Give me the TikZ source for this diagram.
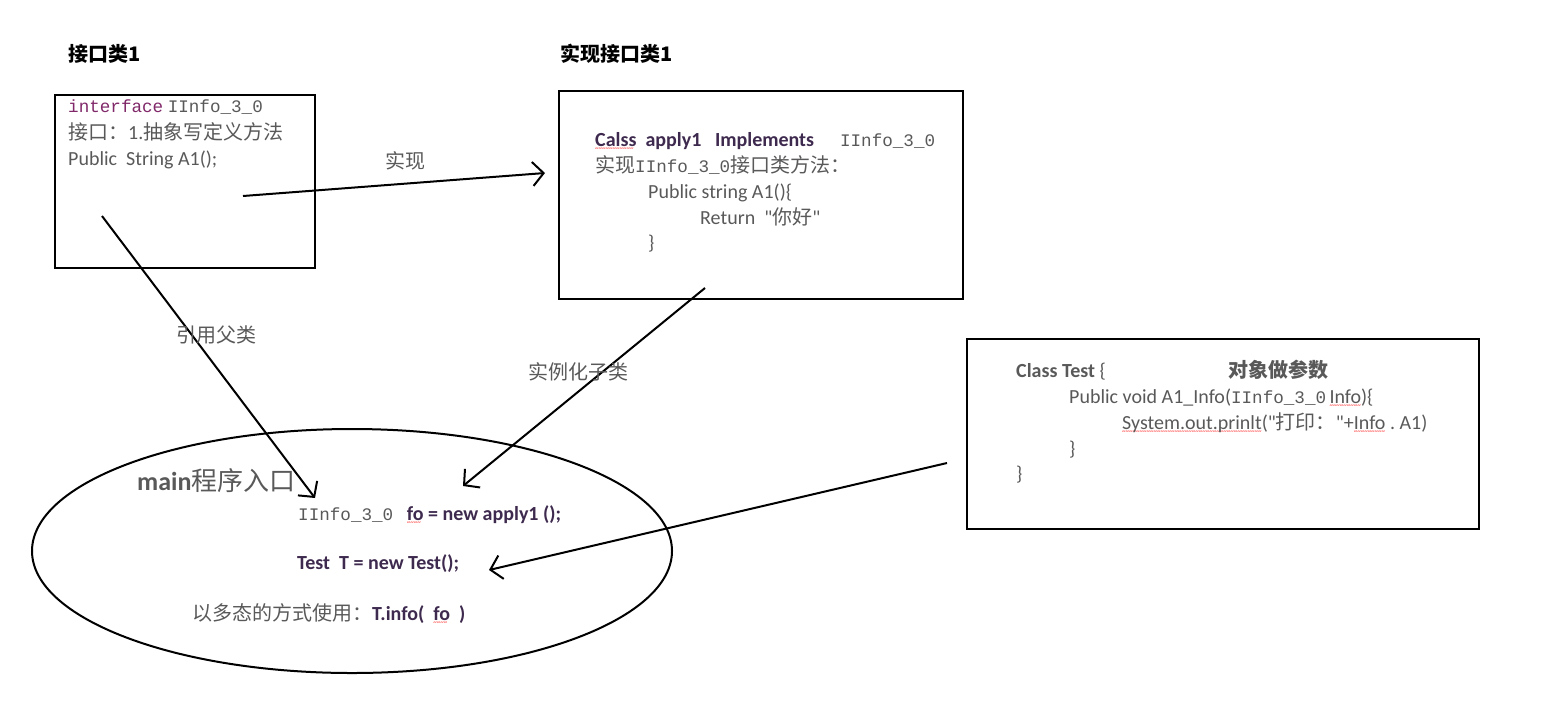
\documentclass[tikz,border=0pt]{standalone}
\usepackage{fontspec}
\setmainfont{Carlito}[Ligatures=TeXOff]
\newfontfamily\cjk{Noto Sans CJK SC}
\newfontfamily\song{Liberation Mono}[Scale=0.88]
\usetikzlibrary{arrows.meta,shapes.geometric}
\definecolor{testo}{RGB}{89,89,89}
\definecolor{viola}{RGB}{128,40,105}
\definecolor{scuro}{RGB}{62,42,78}
\newcommand{\zh}[1]{{\cjk #1}}
\newcommand{\mono}[1]{{\song #1}}
% sottolineatura ondulata rossa
\newsavebox{\parola}
\newcommand{\errore}[1]{\sbox{\parola}{#1}\rlap{\textcolor{red}{\lower4.5pt\hbox to \wd\parola{\mdseries\fontsize{7}{7}\selectfont\leaders\hbox{\char"7E}\hfill}}}\usebox{\parola}}
\tikzset{
  riga/.style={anchor=base west, inner sep=0pt, text=testo, font=\fontsize{20}{24}\selectfont},
  titolo/.style={anchor=base west, inner sep=0pt, font=\cjk\bfseries\fontsize{20}{24}\selectfont},
  etichetta/.style={inner sep=0pt, text=testo, font=\cjk\fontsize{20}{24}\selectfont},
  scatola/.style={draw, line width=2.2pt, inner sep=0pt},
  freccia/.style={line width=2pt, -{Straight Barb[length=11pt,width=24pt]}},
}
\begin{document}
\begin{tikzpicture}[x=1pt,y=-1pt]
  \useasboundingbox (0,0) rectangle (1541,716);
  % Titoli
  \node[titolo] (t1) at (68,61) {接口类1};
  \node[titolo] (t2) at (560,61) {实现接口类1};
  % Scatole
  \node[scatola, minimum width=260pt, minimum height=173pt] (interfaccia) at (185,181.5) {};
  \node[scatola, minimum width=404pt, minimum height=208pt] (classe) at (761,195) {};
  \node[scatola, minimum width=512pt, minimum height=190pt] (test) at (1223,434) {};
  \node[draw, ellipse, line width=2pt, minimum width=640pt, minimum height=244pt] (main) at (352,551) {};
  % Interfaccia
  \node[riga] (i1) at (68,112) {\mono{\color{viola}interface}\ \mono{IInfo\_3\_0}};
  \node[riga] (i2) at (68,139) {\zh{接口：}1.\zh{抽象写定义方法}};
  \node[riga] (i3) at (68,165) {Public\ \ String A1();};
  % Classe
  \node[riga] (c1) at (595,146) {\textcolor{scuro}{\bfseries\errore{Calss}\ \ apply1\ \ \ Implements}\hspace{26pt}\mono{IInfo\_3\_0}};
  \node[riga] (c2) at (595,172) {\zh{实现}\mono{IInfo\_3\_0}\zh{接口类方法：}};
  \node[riga] (c3) at (648,198) {Public string A1()\{};
  \node[riga] (c4) at (700,224) {Return\ \ "\zh{你好}"};
  \node[riga] (c5) at (648,249) {\}};
  % Test
  \node[riga] (s1) at (1016,377) {\textbf{Class Test} \{};
  \node[riga] (s2) at (1228,377) {\zh{\bfseries 对象做参数}};
  \node[riga] (s3) at (1069,403) {Public void A1\_Info(\mono{IInfo\_3\_0}\,\errore{Info})\{};
  \node[riga] (s4) at (1122,429) {\errore{System.out.prinlt}("\zh{打印：}"+\errore{Info}\ .\ A1)};
  \node[riga] (s5) at (1069,455) {\}};
  \node[riga] (s6) at (1016,480) {\}};
  % Main
  \node[riga, font=\fontsize{26}{30}\selectfont] (m0) at (137,490) {\textbf{main}\zh{程序入口}};
  \node[riga] (m1) at (298,520) {\mono{IInfo\_3\_0}\ \ \ \textcolor{scuro}{\bfseries\errore{fo} = new apply1 ();}};
  \node[riga] (m2) at (297,569) {\textcolor{scuro}{\bfseries Test\ \ T = new Test();}};
  \node[riga] (m3) at (192,620) {\zh{以多态的方式使用：}\textcolor{scuro}{\bfseries T.info(\ \ \errore{fo}\ \ )}};
  % Punti
  \coordinate (a1) at (243,196);
  \coordinate (b1) at (545,173);
  \coordinate (a2) at (102,216);
  \coordinate (b2) at (315,498);
  \coordinate (a3) at (705,288);
  \coordinate (b3) at (463,486);
  \coordinate (a4) at (947,463);
  \coordinate (b4) at (489,570);
  % Frecce
  \draw[freccia] (a1) -- (b1);
  \draw[freccia] (a2) -- (b2);
  \draw[freccia] (a3) -- (b3);
  \draw[freccia] (a4) -- (b4);
  % Etichette
  \node[etichetta] (e1) at (405,161) {实现};
  \node[etichetta] (e2) at (216,335) {引用父类};
  \node[etichetta] (e3) at (578,372) {实例化子类};
\end{tikzpicture}
\end{document}
